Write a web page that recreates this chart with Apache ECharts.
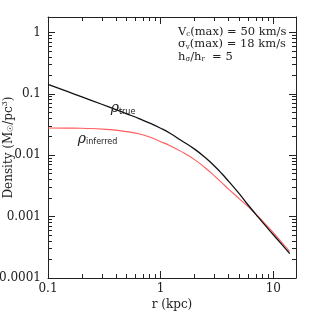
<!DOCTYPE html>
<html><head><meta charset="utf-8">
<script src="https://cdn.jsdelivr.net/npm/echarts@6/dist/echarts.min.js"></script>
<style>html,body{margin:0;padding:0;background:#fff}#c{width:312px;height:312px}</style>
</head><body><div id="c"></div>
<script>
// ---- data ----
const rTrue = [0.1, 0.15, 0.2, 0.3, 0.4, 0.5, 0.65, 0.8, 1.0, 1.2, 1.5, 2.0, 2.5, 3.0, 3.5, 4.0, 5.0, 6.0, 7.0, 8.0, 10, 12, 14];
const rhoTrue = [0.142, 0.108, 0.0891, 0.0675, 0.0552, 0.0472, 0.0391, 0.0333, 0.0275, 0.0230, 0.0177, 0.01256, 0.00908, 0.00667, 0.00498, 0.00378, 0.00234, 0.00153, 0.00109, 0.000811, 0.000507, 0.000346, 0.000250];
const rInferred = [0.1, 0.15, 0.2, 0.33, 0.5, 0.65, 0.8, 1.0, 1.2, 1.5, 2.0, 2.5, 3.0, 3.5, 4.0, 5.0, 6.0, 7.0, 8.0, 10, 12, 14];
const rhoInferred = [0.0277, 0.0276, 0.0274, 0.0263, 0.0242, 0.0221, 0.0197, 0.0166, 0.0144, 0.01164, 0.00847, 0.00619, 0.00459, 0.00353, 0.00281, 0.00195, 0.00144, 0.00110, 0.000855, 0.000547, 0.000373, 0.000270];
const xTickValues = [0.1, 1, 10];
const xTickLabels = ['0.1', '1', '10'];
const yTickValues = [0.0001, 0.001, 0.01, 0.1, 1];
const yTickLabels = ['0.0001', '0.001', '0.01', '0.1', '1'];
const xRange = [0.1, 15.9];
const yRange = [0.0001, 1.78];

const L = Math.log10;
function minorTicks(lo, hi) {
  const out = [];
  for (let e = Math.floor(L(lo)); e <= Math.ceil(L(hi)); e++) {
    for (let m = 2; m <= 9; m++) {
      const v = m * Math.pow(10, e);
      if (v > lo && v < hi) out.push(L(v));
    }
  }
  return out;
}
function fmt(v, vals, labels) {
  for (let i = 0; i < vals.length; i++) if (Math.abs(L(vals[i]) - v) < 1e-6) return labels[i];
  return '';
}
const serif = "'DejaVu Serif', serif";
const ink = '#222';

function makeAxis(dim, pos, major, withLabel) {
  const range = dim === 'x' ? xRange : yRange;
  const vals = dim === 'x' ? xTickValues : yTickValues;
  const labs = dim === 'x' ? xTickLabels : yTickLabels;
  const ticks = major ? vals.map(L) : minorTicks(range[0], range[1]);
  return {
    type: 'value', position: pos, min: L(range[0]), max: L(range[1]),
    axisLine: { show: major, onZero: false, lineStyle: { color: ink, width: 1 } },
    axisTick: { show: true, inside: true, length: major ? 7 : 4, customValues: ticks, lineStyle: { color: ink, width: 1 } },
    axisLabel: { show: withLabel, customValues: vals.map(L), formatter: v => fmt(v, vals, labs),
      color: ink, fontFamily: serif, fontSize: 12, margin: dim === 'x' ? 5 : 7 },
    splitLine: { show: false }
  };
}
const x0 = makeAxis('x', 'bottom', true, true);
x0.name = 'r (kpc)'; x0.nameLocation = 'middle'; x0.nameGap = 21; x0.nameMoveOverlap = false;
x0.nameTextStyle = { color: ink, fontFamily: serif, fontSize: 12 };
const y0 = makeAxis('y', 'left', true, true);
y0.name = '{n|Density (M}{s|☉}{n|/pc}{p|3}{n|)}'; y0.nameLocation = 'middle'; y0.nameGap = 33; y0.nameMoveOverlap = false;
y0.nameRotate = 90;
y0.nameTextStyle = { color: ink, fontFamily: serif, fontSize: 12,
  rich: { n: { fontFamily: serif, fontSize: 12, color: ink, verticalAlign: 'bottom', lineHeight: 14 },
          s: { fontFamily: serif, fontSize: 8, color: ink, verticalAlign: 'bottom', lineHeight: 8 },
          p: { fontFamily: serif, fontSize: 8, color: ink, verticalAlign: 'top', lineHeight: 8 } } };

const subRich = {
  r: { fontFamily: serif, fontStyle: 'italic', fontSize: 14, color: ink, verticalAlign: 'bottom', lineHeight: 15 },
  s: { fontFamily: "'DejaVu Sans', sans-serif", fontSize: 8, color: ink, verticalAlign: 'bottom', lineHeight: 9 }
};

const option = {
  animation: false,
  backgroundColor: '#fff',
  grid: { left: 48, top: 17, width: 248, height: 261, containLabel: false, outerBoundsMode: 'none' },
  xAxis: [x0, makeAxis('x', 'bottom', false, false), makeAxis('x', 'top', true, false), makeAxis('x', 'top', false, false)],
  yAxis: [y0, makeAxis('y', 'left', false, false), makeAxis('y', 'right', true, false), makeAxis('y', 'right', false, false)],
  series: [
    { type: 'line', name: 'true', xAxisIndex: 0, yAxisIndex: 0, symbol: 'none', smooth: 0.5, z: 3,
      data: rTrue.map((r, i) => [L(r), L(rhoTrue[i])]),
      lineStyle: { color: '#111', width: 1.3 },
      markPoint: { symbol: 'circle', symbolSize: 0, silent: true,
        label: { show: true, position: 'right', distance: 0, formatter: '{r|ρ}{s|true}', rich: subRich },
        data: [{ coord: [L(0.36), L(0.058)] }] } },
    { type: 'line', name: 'inferred', xAxisIndex: 0, yAxisIndex: 0, symbol: 'none', smooth: 0.5, z: 2,
      data: rInferred.map((r, i) => [L(r), L(rhoInferred[i])]),
      lineStyle: { color: '#ff5c5c', width: 1.1 },
      markPoint: { symbol: 'circle', symbolSize: 0, silent: true,
        label: { show: true, position: 'right', distance: 0, formatter: '{r|ρ}{s|inferred}', rich: subRich },
        data: [{ coord: [L(0.184), L(0.0186)] }] } }
  ],
  graphic: [{
    type: 'text', left: 178, top: 26, silent: true,
    style: {
      text: '{n|V}{s|c}{n|(max) = 50 km/s}\n{n|σ}{s|v}{n|(max) = 18 km/s}\n{n|h}{s|σ}{n|/h}{s|r}{n|  = 5}',
      rich: { n: { fontFamily: serif, fontSize: 11.5, fill: ink, verticalAlign: 'bottom', lineHeight: 12.5 },
              s: { fontFamily: serif, fontSize: 7, fill: ink, verticalAlign: 'bottom', lineHeight: 7 } }
    }
  }]
};
const chart = echarts.init(document.getElementById('c'), null, { renderer: 'canvas' });
chart.setOption(option);
</script></body></html>
